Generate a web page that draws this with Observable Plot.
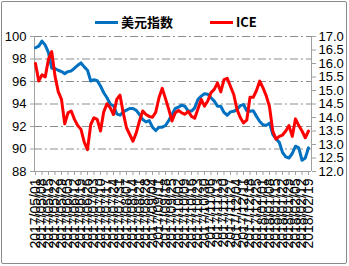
<!DOCTYPE html>
<html><head><meta charset="utf-8">
<script src="https://cdn.jsdelivr.net/npm/d3@7"></script>
<script src="https://cdn.jsdelivr.net/npm/@observablehq/plot@0.6"></script>
<style>
body{margin:0;background:#fff;}
#wrap{position:relative;width:349px;height:266px;overflow:hidden;background:#fff;font-family:"Liberation Sans",Arial,sans-serif;}
#wrap svg{position:absolute;left:0;top:0;}
#frame{position:absolute;left:1px;top:1px;width:346px;height:263px;box-sizing:border-box;border:1px solid #8a8a8a;border-radius:2px;pointer-events:none;}
.lg{position:absolute;font-family:"Noto Sans CJK SC",sans-serif;font-weight:bold;font-size:13px;line-height:16px;top:14px;color:#000;}
.sw{position:absolute;height:3px;top:21px;width:23px;}
</style></head>
<body><div id="wrap"><div id="frame"></div></div>
<script>
const dates = ["2017/05/01","2017/05/08","2017/05/15","2017/05/22","2017/05/29","2017/06/05","2017/06/12","2017/06/19","2017/06/26","2017/07/03","2017/07/10","2017/07/17","2017/07/24","2017/07/31","2017/08/07","2017/08/14","2017/08/21","2017/08/28","2017/09/04","2017/09/11","2017/09/18","2017/09/25","2017/10/02","2017/10/09","2017/10/16","2017/10/23","2017/10/30","2017/11/06","2017/11/13","2017/11/20","2017/11/27","2017/12/04","2017/12/11","2017/12/18","2017/12/25","2018/01/01","2018/01/08","2018/01/15","2018/01/22","2018/01/29","2018/02/05","2018/02/12","2018/02/19"];
const usd = [99.0,99.14,99.59,99.23,98.57,97.18,97.15,97.0,96.88,96.7,96.88,96.94,97.18,97.44,97.65,97.3,97.0,96.04,96.16,96.07,95.6,95.0,94.55,94.0,93.84,93.13,93.0,93.3,93.45,
93.6,93.6,93.43,93.07,92.62,92.41,92.53,91.94,91.64,91.94,91.94,92.09,92.53,93.07,93.6,93.72,93.9,93.78,93.37,93.37,93.66,94.41,94.7,94.91,94.86,94.55,94.26,93.8,
93.8,93.25,93.0,93.3,93.35,93.5,93.85,93.95,93.4,93.35,93.4,92.9,92.45,92.15,92.1,92.3,91.3,90.9,90.6,89.7,89.3,89.2,89.6,90.25,90.1,89.0,89.2,90.1];
const ice = [16.0,15.35,15.58,15.5,16.16,16.44,15.54,14.96,14.67,13.77,14.17,14.24,13.93,13.7,13.56,13.09,12.81,13.74,13.99,13.93,13.5,14.21,14.51,14.36,14.11,14.67,14.83,14.17,13.62,
13.37,13.12,13.43,13.87,14.24,14.11,14.04,14.01,14.2,14.73,15.08,14.7,14.3,13.87,14.17,14.26,14.17,14.12,14.23,14.04,13.97,14.32,14.67,14.42,14.61,14.92,15.04,15.28,
14.95,15.4,15.45,15.15,14.85,14.3,14.0,13.8,13.9,14.75,14.75,15.0,15.35,15.1,14.8,14.4,13.5,13.2,13.3,13.35,13.5,13.7,13.3,13.95,13.7,13.5,13.25,13.5];
const leftTicks = [88,90,92,94,96,98,100];
const rightTicks = [12.0,12.5,13.0,13.5,14.0,14.5,15.0,15.5,16.0,16.5,17.0];
const seriesNames = ["美元指数","ICE"];
const colors = ["#0070C0","#FF0000"];

const toLeft = v => 88 + (v - 12) * 2.4;
const fromLeft = v => (v - 88) / 2.4 + 12;
const rows = usd.map((v, i) => ({t: i * 0.5, usd: v, ice: toLeft(ice[i])}));
const x0 = -0.15, x1 = 42.46;

const chart = Plot.plot({
  width: 349, height: 266,
  marginLeft: 34, marginRight: 38, marginTop: 36, marginBottom: 95,
  style: {fontFamily: "Liberation Sans, Arial, sans-serif", fontSize: "13px", background: "transparent"},
  x: {domain: [x0, x1], axis: null, label: null},
  y: {domain: [88, 100], axis: null, label: null},
  marks: [
    Plot.ruleY(leftTicks.filter(d => d > 88), {stroke: "#8c8c8c", strokeWidth: 1, strokeDasharray: "8,3,2,3"}),
    Plot.ruleY([88], {stroke: "#a0a0a0", strokeWidth: 1}),
    Plot.ruleX([x0], {stroke: "#a0a0a0", strokeWidth: 1}),
    Plot.ruleX([x1], {stroke: "#a0a0a0", strokeWidth: 1}),
    Plot.axisY(leftTicks, {anchor: "left", label: null, tickSize: 4, tickPadding: 4, stroke: "#a0a0a0", fill: "#000", fontSize: 13}),
    Plot.axisY(rightTicks.map(toLeft), {anchor: "right", label: null, tickSize: 4, tickPadding: 3, stroke: "#a0a0a0", fill: "#000", fontSize: 13,
      tickFormat: d => fromLeft(d).toFixed(1)}),
    Plot.axisX(d3.range(dates.length), {anchor: "bottom", label: null, tickSize: 4, tickPadding: 3, tickRotate: -90, stroke: "#a0a0a0", fill: "#000", fontSize: 14,
      tickFormat: i => dates[i]}),
    Plot.line(rows, {x: "t", y: "usd", stroke: colors[0], strokeWidth: 3}),
    Plot.line(rows, {x: "t", y: "ice", stroke: colors[1], strokeWidth: 3})
  ]
});
const wrap = document.getElementById("wrap");
wrap.insertBefore(chart, wrap.firstChild);
const lg = [[95,121],[210,236]];
seriesNames.forEach((n, k) => {
  const s = document.createElement("div"); s.className = "sw";
  s.style.left = lg[k][0] + "px"; s.style.background = colors[k]; wrap.appendChild(s);
  const t = document.createElement("div"); t.className = "lg";
  t.style.left = lg[k][1] + "px"; t.textContent = n; wrap.appendChild(t);
});
</script></body></html>
